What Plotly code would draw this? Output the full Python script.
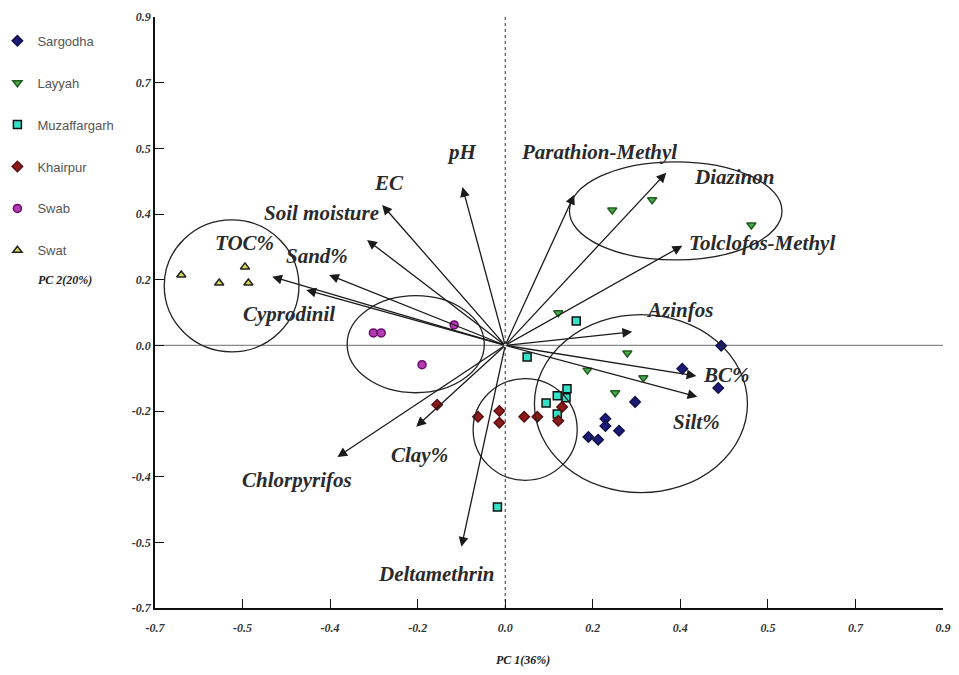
import plotly.graph_objects as go

# ---------------- data ----------------
tick_vals = [-0.72, -0.54, -0.36, -0.18, 0.0, 0.18, 0.36, 0.54, 0.72, 0.9]
tick_text = ["-0.7", "-0.5", "-0.4", "-0.2", "0.0", "0.2", "0.4", "0.5", "0.7", "0.9"]

sargodha_x = [0.444, 0.364, 0.438, 0.267, 0.206, 0.206, 0.234, 0.171, 0.191]
sargodha_y = [-0.001, -0.064, -0.117, -0.155, -0.201, -0.221, -0.234, -0.251, -0.259]

layyah_x = [0.220, 0.302, 0.506, 0.109, 0.251, 0.169, 0.284, 0.226]
layyah_y = [0.371, 0.399, 0.330, 0.089, -0.021, -0.068, -0.089, -0.130]

muzaffargarh_x = [0.146, 0.045, 0.084, 0.107, 0.127, 0.125, 0.107, -0.016]
muzaffargarh_y = [0.067, -0.032, -0.158, -0.138, -0.119, -0.144, -0.188, -0.443]

khairpur_x = [-0.140, -0.056, -0.012, -0.012, 0.039, 0.066, 0.109, 0.117]
khairpur_y = [-0.163, -0.196, -0.180, -0.212, -0.196, -0.196, -0.207, -0.169]

swab_x = [-0.271, -0.255, -0.105, -0.171]
swab_y = [0.034, 0.034, 0.056, -0.053]

swat_x = [-0.666, -0.588, -0.535, -0.528]
swat_y = [0.193, 0.171, 0.215, 0.171]

var_names = ["pH", "EC", "Soil moisture", "Sand%", "TOC%", "Cyprodinil",
             "Parathion-Methyl", "Diazinon", "Tolclofos-Methyl", "Azinfos",
             "BC%", "Silt%", "Chlorpyrifos", "Clay%", "Deltamethrin"]
load_x = [-0.088, -0.253, -0.284, -0.362, -0.479, -0.409,
          0.142, 0.331, 0.364, 0.261, 0.393, 0.395, -0.345, -0.183, -0.090]
load_y = [0.434, 0.385, 0.289, 0.193, 0.188, 0.152,
          0.413, 0.473, 0.273, 0.037, -0.084, -0.141, -0.306, -0.223, -0.552]

# ---------------- layout helpers (positions) ----------------
label_pos = {
    "pH": (-0.088, 0.530), "EC": (-0.238, 0.445), "Soil moisture": (-0.378, 0.363),
    "Sand%": (-0.387, 0.245), "TOC%": (-0.537, 0.280), "Cyprodinil": (-0.444, 0.086),
    "Parathion-Methyl": (0.193, 0.530), "Diazinon": (0.471, 0.462),
    "Tolclofos-Methyl": (0.528, 0.281), "Azinfos": (0.358, 0.097),
    "BC%": (0.454, -0.081), "Silt%": (0.393, -0.211), "Chlorpyrifos": (-0.428, -0.369),
    "Clay%": (-0.177, -0.300), "Deltamethrin": (-0.142, -0.627),
}
ellipses = [
    (-0.701, -0.018, -0.424, 0.344),
    (-0.325, -0.130, -0.043, 0.136),
    (0.132, 0.234, 0.569, 0.503),
    (-0.066, -0.370, 0.148, -0.091),
    (0.060, -0.404, 0.498, 0.084),
]

serif = "Liberation Serif, Times New Roman, serif"

fig = go.Figure()

groups = [
    ("Sargodha", sargodha_x, sargodha_y, "diamond", "#1c1c78", "#10104a", 8),
    ("Layyah", layyah_x, layyah_y, "triangle-down", "#4caa4c", "#1f5e1f", 8),
    ("Muzaffargarh", muzaffargarh_x, muzaffargarh_y, "square", "#33e0c8", "#111111", 8),
    ("Khairpur", khairpur_x, khairpur_y, "diamond", "#8b1c1c", "#5a0d0d", 8),
    ("Swab", swab_x, swab_y, "circle", "#b23cb2", "#6a0a6a", 8),
    ("Swat", swat_x, swat_y, "triangle-up", "#d8d850", "#222222", 8),
]
for name, xs, ys, sym, fill, edge, sz in groups:
    fig.add_trace(go.Scatter(
        x=xs, y=ys, mode="markers", name=name, legendgroup=name,
        marker=dict(symbol=sym, color=fill, size=sz, line=dict(color=edge, width=1.5)),
    ))

# axis reference lines
fig.add_shape(type="line", x0=-0.72, x1=0.9, y0=0, y1=0, xref="x", yref="y",
              line=dict(color="#8a8a8a", width=1.2), layer="below")
fig.add_shape(type="line", x0=0, x1=0, y0=-0.72, y1=0.9, xref="x", yref="y",
              line=dict(color="#333333", width=1, dash="dot"), layer="below")

for (x0, y0, x1, y1) in ellipses:
    fig.add_shape(type="circle", x0=x0, y0=y0, x1=x1, y1=y1, xref="x", yref="y",
                  line=dict(color="#222222", width=1.3))

for name, lx, ly in zip(var_names, load_x, load_y):
    fig.add_annotation(x=lx, y=ly, ax=0, ay=0, axref="x", ayref="y", xref="x", yref="y",
                       text="", showarrow=True, arrowhead=2, arrowsize=1.5,
                       arrowwidth=1.3, arrowcolor="#1a1a1a", standoff=0, startstandoff=0)
    tx, ty = label_pos[name]
    fig.add_annotation(x=tx, y=ty, xref="x", yref="y", text=name, showarrow=False,
                       font=dict(family=serif, size=21, color="#2a2a2a", style="italic",
                                 weight="bold"))

fig.add_annotation(x=0.467, y=-0.088, xref="paper", yref="paper", text="PC 1(36%)",
                   showarrow=False, xanchor="center", yanchor="middle",
                   font=dict(family=serif, size=12, color="#222222", style="italic", weight="bold"))
fig.add_annotation(x=-0.114, y=0.555, xref="paper", yref="paper", text="PC 2(20%)",
                   showarrow=False, xanchor="center", yanchor="middle",
                   font=dict(family=serif, size=12, color="#222222", style="italic", weight="bold"))

axis_common = dict(
    tickvals=tick_vals, ticktext=tick_text, showgrid=False, zeroline=False,
    showline=True, linecolor="#111111", linewidth=1.5, ticks="inside", ticklen=9,
    tickcolor="#111111", tickwidth=1.2,
    tickfont=dict(family=serif, size=12, color="#333333", style="italic", weight="bold"),
)
fig.update_xaxes(range=[-0.72, 0.9], ticklabelstandoff=8, **axis_common)
fig.update_yaxes(range=[-0.72, 0.9], **axis_common)

fig.update_layout(
    width=951, height=667,
    margin=dict(l=147, r=16, t=9, b=67, autoexpand=False),
    plot_bgcolor="white", paper_bgcolor="white",
    showlegend=True,
    legend=dict(x=-0.2, y=0.985, xanchor="left", yanchor="top",
                traceorder="grouped", tracegroupgap=22, itemwidth=30,
                font=dict(family="Liberation Sans, Arial, sans-serif", size=13, color="#555555"),
                bgcolor="rgba(0,0,0,0)"),
)

fig.write_html("out.html")
